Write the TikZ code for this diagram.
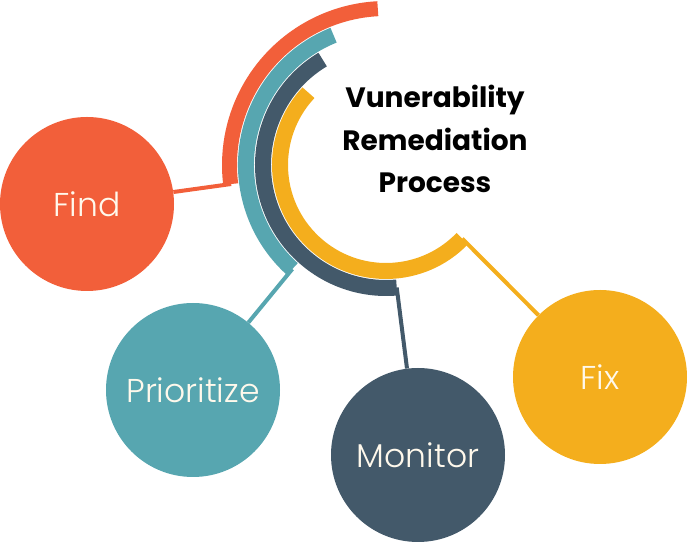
\documentclass[tikz,border=0pt]{standalone}
\usepackage{fontspec}
\setmainfont{Poppins}
\newfontfamily\lightfont{Poppins Light}
\usepackage{xcolor}
\usepackage{tikz}
\usetikzlibrary{calc}
\definecolor{vorange}{HTML}{F25F3A}
\definecolor{vteal}{HTML}{57A6B0}
\definecolor{vdark}{HTML}{43596A}
\definecolor{vyellow}{HTML}{F4AE1D}
\definecolor{vcream}{HTML}{FFF9EC}

\begin{document}
\begin{tikzpicture}[
  x=1pt, y=1pt,
  every node/.style={font=\lightfont\fontsize{33}{36}\selectfont},
  nd/.style={circle, minimum size=174pt, inner sep=0pt, text=vcream},
  ring/.style={line width=16pt},
  lnk/.style={line width=4pt},
]
\useasboundingbox (0,0) rectangle (689,543);
\coordinate (c) at (386,378);

\node[nd, fill=vorange] (find) at (87,339) {Find};
\node[nd, fill=vteal] (prio) at (193,153) {Prioritize};
\node[nd, fill=vdark] (mon) at (418,88) {Monitor};
\node[nd, fill=vyellow] (fix) at (600,166) {Fix};

\coordinate (eo) at ($(c)+(187:156)$);
\coordinate (et) at ($(c)+(228:140)$);
\coordinate (ed) at ($(c)+(275:123)$);
\coordinate (ey) at ($(c)+(316:106)$);

\draw[lnk, vorange] (find) -- (eo);
\draw[lnk, vteal] (prio) -- (et);
\draw[lnk, vdark] (mon) -- (ed);
\draw[lnk, vyellow] (fix) -- (ey);

\draw[ring, line width=15pt, vorange] ($(c)+(93:156.5)$) arc[start angle=93, end angle=187, radius=156.5];
\draw[ring, vteal] ($(c)+(112:140)$) arc[start angle=112, end angle=228, radius=140];
\draw[ring, vdark] ($(c)+(121:123)$) arc[start angle=121, end angle=275, radius=123];
\draw[ring, vyellow] ($(c)+(137:106)$) arc[start angle=137, end angle=316, radius=106];

\node[font=\bfseries\fontsize{28}{42.5}\selectfont, align=center] (title) at (435,404) {Vunerability\\Remediation\\Process};
\end{tikzpicture}
\end{document}
